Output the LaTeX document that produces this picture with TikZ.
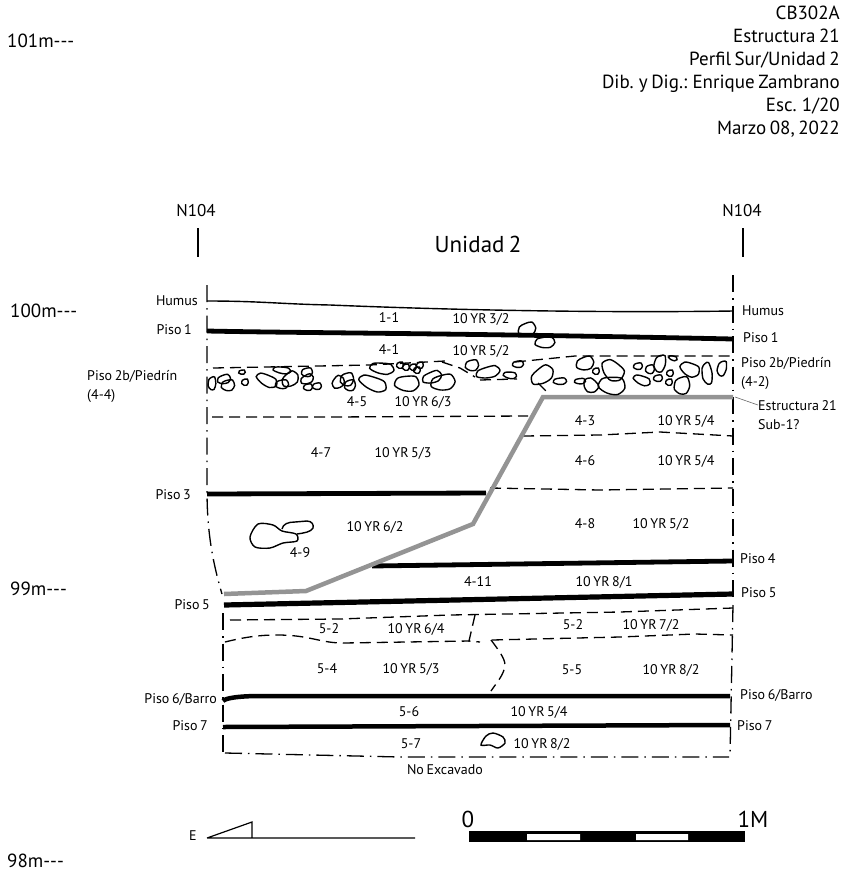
\documentclass[tikz,border=0pt]{standalone}
\usepackage{fontspec}
\setmainfont[WordSpace=0.7]{PT Sans}
\usetikzlibrary{calc,positioning}
\tikzset{lbl/.style={inner sep=0pt,font=\fontsize{14}{19}\selectfont}}
\tikzstyle{ref}=[lbl, font=\fontsize{19}{23}\selectfont]
\tikzstyle{piso}=[line width=4.8pt]
\tikzstyle{soil}=[line width=1.3pt, dash pattern=on 11pt off 6pt]
\tikzstyle{edgeline}=[line width=1.3pt, dash pattern=on 17pt off 6pt on 1.5pt off 6pt]
\tikzstyle{stone}=[line width=1.4pt]
\newcommand{\stone}[5]{\draw[stone,shift={(#1,#2)},rotate=#5] plot[smooth cycle] coordinates {({1.1*#3},{.1*#4}) ({.6*#3},{1.05*#4}) ({-.3*#3},{1.1*#4}) ({-1.1*#3},{.5*#4}) ({-.9*#3},{-.55*#4}) ({-.1*#3},{-.95*#4}) ({.75*#3},{-1*#4})};}
\begin{document}
\begin{tikzpicture}[x=1pt,y=-1pt]
\useasboundingbox (0,0) rectangle (844,871);
% level marks
\node[ref,anchor=west] (m101) at (7,41){101m-{}-{}-};
\node[ref,anchor=west] (m100) at (10,311){100m-{}-{}-};
\node[ref,anchor=west] (m99) at (10,589){99m-{}-{}-};
\node[ref,anchor=west] (m98) at (7,861){98m-{}-{}-};
% title block
\node[ref,anchor=north east,align=right] (title) at (840,6){CB302A\\Estructura 21\\Perfil Sur/Unidad 2\\Dib. y Dig.: Enrique Zambrano\\Esc. 1/20\\Marzo 08, 2022};
\node[ref,font=\fontsize{17}{20}\selectfont] (NL) at (196,211){N104};
\node[ref,font=\fontsize{17}{20}\selectfont] (NR) at (742,211){N104};
\node[lbl,font=\fontsize{23}{25}\selectfont] (unit) at (478,244){Unidad 2};
\draw[line width=1.3pt] (198,228)--(198,257) (743,228)--(743,257);
% layers
\draw[line width=1.4pt] (207,301) .. controls (260,301) and (280,304) .. (330,305) .. controls (450,310) and (600,313) .. (733,311);
\draw[piso] (207,331) .. controls (300,333) and (450,333) .. (733,339);
\draw[soil] (213,368)--(370,365)--(445,361);
\draw[soil] (442,362)--(460,368)--(475,377);
\draw[soil] (480,380)--(517,379);
\draw[soil] (538,383)--(548,393);
\draw[soil] (515,362)--(575,356)--(733,356);
\draw[soil] (212,417)--(330,417)--(528,416);
\draw[soil] (523,436)--(600,435)--(660,432)--(733,436);
\draw[soil] (490,488)--(600,490)--(733,488);
\draw[piso] (207,494)--(486,493);
\draw[piso] (372,566)--(733,561);
\draw[piso,line width=5.2pt] (224,605)--(733,594);
\draw[soil] (230,620)--(340,619)--(450,615)--(620,612)--(733,608);
\draw[soil] (475,615)--(469,641)--(480,642);
\draw[soil] (225,642) .. controls (245,637) and (260,635) .. (277,635) .. controls (310,635) and (320,643) .. (343,643) -- (470,641) (492,640)--(620,637)--(695,634)--(733,635);
\draw[soil] (491,640) .. controls (497,648) and (505,658) .. (505,665) .. controls (504,675) and (497,682) .. (491,691);
\draw[piso,line width=4.5pt] (223,701) .. controls (225,698) and (240,696) .. (260,696) -- (730,696);
\draw[piso,line width=4.5pt] (223,727)--(730,725);
\draw[edgeline] (225,753)--(400,757)--(729,757);
% section edges
\draw[edgeline] (207,285)--(207,490) .. controls (207,530) and (212,560) .. (222,594);
\draw[edgeline] (223,613)--(223,753);
\draw[edgeline] (733,275)--(733,600);
\draw[edgeline] (733,605)--(730,757);
% cut
\draw[line width=4.5pt,color=black!42,line join=miter] (224,594)--(306,591)--(473,524)--(543,397)--(733,397);
\coordinate (cutend) at (735,397);
% stones
\foreach \sx/\sy/\rx/\ry/\rot in {212/383/3.5/6/0,224/379/6/4/10,228/385/6/5/0,242/372/3/2/0,245/382/3/3/0,
267/380/10/5/-30,282/370/8/3/-10,290/379/8/6/30,282/384/6/4/0,307/372/5/4/0,308/387/4/3/0,317/386/4/3/0,
307/379/6/4/20,338/382/6/5/40,347/379/6/6/0,350/385/5/5/0,373/383/13/6/-25,382/368/11/5/-10,
400/365/3/3/0,406/367/3/3/0,413/367/3/3/0,420/365/3/3/0,417/370/3/3/0,407/383/11/7/-5,432/377/9/5/15,443/382/11/7/5,
472/365/6/5/0,488/372/11/5/10,510/375/6/3/-10,518/364/5/3/0,542/375/11/7/30,560/381/6/3/0,585/363/8/6/10,596/371/3/3/0,
580/381/5/2.5/0,591/385/7/6/-60,613/370/11/8/-50,612/385/12/8/-10,638/366/4/3/0,650/369/4/4/0,660/363/5/8/-10,673/358/4/2/-20,
642/380/8/4/-25,658/378/4/3/0,670/373/3/3/0,669/382/3/3/0,682/385/7/8/0,690/369/9/6/-30,707/373/4.5/10/10,722/368/4/7/-10,
527/329/8/6/10,545/342/9/5/0}
{\stone{\sx}{\sy}{\rx}{\ry}{\rot}}
\draw[stone] plot[smooth cycle] coordinates {(250,537) (258,524) (273,525) (282,531) (296,534) (297,541) (283,543) (270,548) (255,547)};
\draw[stone] (282,529) .. controls (283,524) and (288,522) .. (295,522) -- (307,521) .. controls (312,521) and (314,525) .. (313,528) .. controls (311,532) and (304,533) .. (297,534);
\draw[stone] plot[smooth cycle] coordinates {(481,745) (486,736) (493,733) (503,737) (505,743) (498,748) (490,745)};
% layer texts
\node[lbl] (t11) at (389,318){1-1};
\node[lbl] (c11) at (481,319){10 YR 3/2};
\node[lbl] (t41) at (389,350){4-1};
\node[lbl] (c41) at (481,351){10 YR 5/2};
\node[lbl] (t45) at (357,402){4-5};
\node[lbl] (c45) at (423,402){10 YR 6/3};
\node[lbl] (t43) at (585,421){4-3};
\node[lbl] (c43) at (686,421){10 YR 5/4};
\node[lbl] (t47) at (321,453){4-7};
\node[lbl] (c47) at (403,453){10 YR 5/3};
\node[lbl] (t46) at (585,461){4-6};
\node[lbl] (c46) at (686,461){10 YR 5/4};
\node[lbl] (c49) at (375,527){10 YR 6/2};
\node[lbl] (t49) at (300,553){4-9};
\node[lbl] (t48) at (585,524){4-8};
\node[lbl] (c48) at (661,524){10 YR 5/2};
\node[lbl] (t411) at (478,582){4-11};
\node[lbl] (c411) at (604,582){10 YR 8/1};
\node[lbl] (t52a) at (329,629){5-2};
\node[lbl] (c52a) at (416,629){10 YR 6/4};
\node[lbl] (t52b) at (573,625){5-2};
\node[lbl] (c52b) at (651,625){10 YR 7/2};
\node[lbl] (t54) at (327,669){5-4};
\node[lbl] (c54) at (411,669){10 YR 5/3};
\node[lbl] (t55) at (572,670){5-5};
\node[lbl] (c55) at (671,670){10 YR 8/2};
\node[lbl] (t56) at (409,712){5-6};
\node[lbl] (c56) at (539,712){10 YR 5/4};
\node[lbl] (t57) at (411,744){5-7};
\node[lbl] (c57) at (542,744){10 YR 8/2};
\node[lbl] (noexc) at (445,770){No Excavado};
% floor names, left
\node[lbl,anchor=east] (humusL) at (198,301){Humus};
\node[lbl,anchor=east] (piso1L) at (192,330){Piso 1};
\node[lbl,anchor=north west,align=left] (p2L) at (87,370){Piso 2b/Piedrín\\(4-4)};
\node[lbl,anchor=east] (piso3L) at (191,495){Piso 3};
\node[lbl,anchor=east] (piso5L) at (210,605){Piso 5};
\node[lbl,anchor=east] (piso6L) at (217,699){Piso 6/Barro};
\node[lbl,anchor=east] (piso7L) at (208,726){Piso 7};
% floor names, right
\node[lbl,anchor=west] (humusR) at (742,311){Humus};
\node[lbl,anchor=west] (piso1R) at (743,338){Piso 1};
\node[lbl,anchor=north west,align=left] (p2R) at (741,357){Piso 2b/Piedrín\\(4-2)};
\node[lbl,anchor=north west,align=left] (estr) at (758,400){Estructura 21\\Sub-1?};
\node[lbl,anchor=west] (piso4R) at (740,559){Piso 4};
\node[lbl,anchor=west] (piso5R) at (741,593){Piso 5};
\node[lbl,anchor=west] (piso6R) at (740,695){Piso 6/Barro};
\node[lbl,anchor=west] (piso7R) at (737,726){Piso 7};
\draw[line width=.6pt,color=black!60] (cutend)--(estr.west |- 0,405);
% scale
\node[lbl,font=\fontsize{14}{16}\selectfont] (E) at (193,836){E};
\coordinate (slopeA) at (207,838);
\coordinate (slopeB) at (252,822);
\coordinate (slopeC) at (252,838);
\coordinate (slopeD) at (415,838);
\draw[line width=1.2pt] (slopeA)--(slopeB)--(slopeC) (slopeA)--(slopeD);
\fill (469,831) rectangle (745,842);
\fill[white] (527,834) rectangle (580,840) (636,834) rectangle (688,840);
\node[lbl,font=\fontsize{23}{25}\selectfont] (zero) at (468,819){0};
\node[lbl,font=\fontsize{23}{25}\selectfont] (oneM) at (753,819){1M};
\end{tikzpicture}
\end{document}
